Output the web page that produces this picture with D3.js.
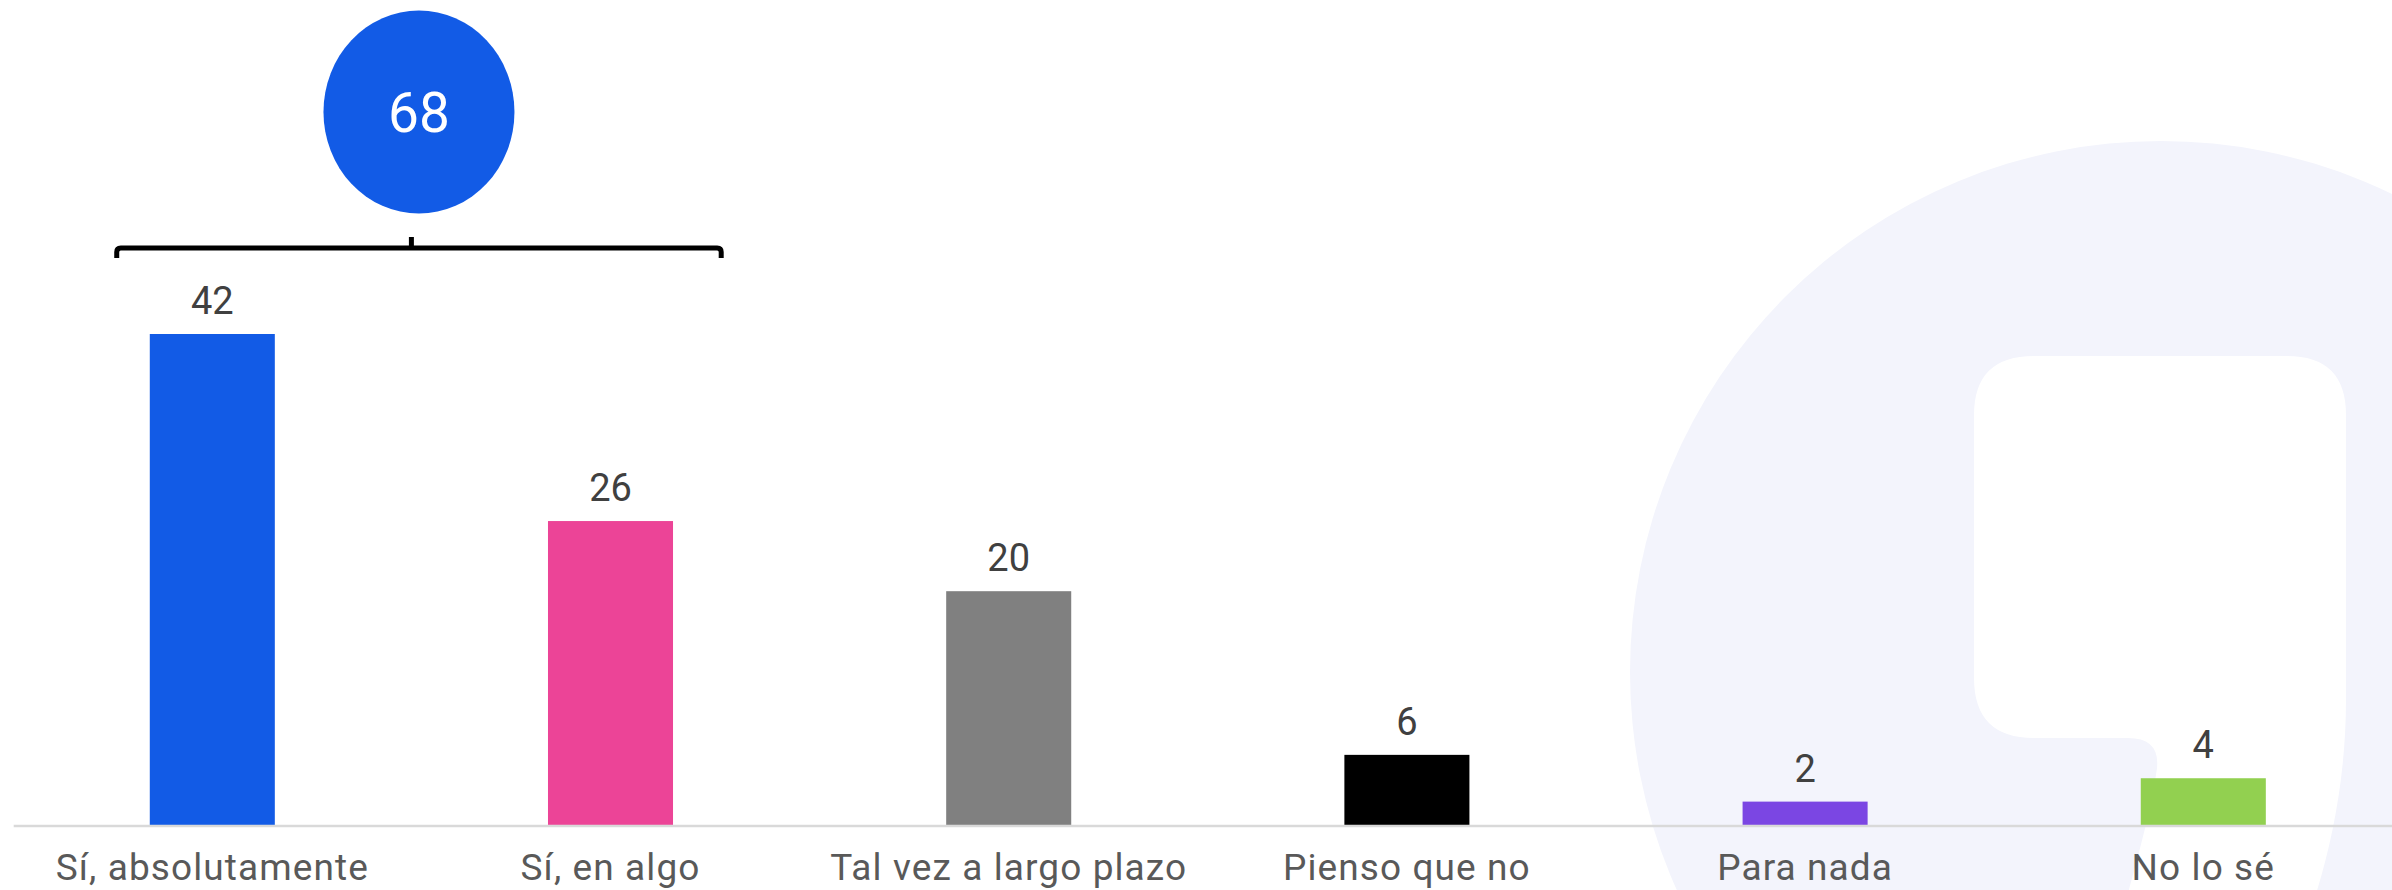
<!DOCTYPE html>
<html>
<head>
<meta charset="utf-8">
<script src="https://cdn.jsdelivr.net/npm/d3@7"></script>
<style>
  html, body { margin: 0; padding: 0; background: #ffffff; overflow: hidden; }
  svg { display: block; }
</style>
</head>
<body>
<div id="chart"></div>
<script>
// ---- data ----
const categories = ["Sí, absolutamente", "Sí, en algo", "Tal vez a largo plazo", "Pienso que no", "Para nada", "No lo sé"];
const values = [42, 26, 20, 6, 2, 4];
const barColors = ["#125be6", "#ec4497", "#808080", "#000000", "#7b46e3", "#92d050"];
const groupMembers = ["Sí, absolutamente", "Sí, en algo"];
const groupTotal = 68;

// ---- layout ----
const W = 2392, H = 890;
const baseY = 825;

const svg = d3.select("#chart").append("svg")
  .attr("width", W).attr("height", H)
  .style("font-family", "Roboto, 'Noto Sans', sans-serif");

// watermark logo (light background shape)
const wm = svg.append("g");
wm.append("circle").attr("cx", 2161).attr("cy", 672).attr("r", 531).attr("fill", "#f3f4fc");
wm.append("path")
  .attr("fill", "#ffffff")
  .attr("d", "M2034,356 H2287 Q2346,356 2346,415 V700 C2346,775 2332,845 2314,900 H2126 C2140,850 2152,805 2157,768 Q2160,738 2128,738 H2034 Q1974,738 1974,678 V415 Q1974,356 2034,356 Z");

// scales
const x = d3.scaleBand()
  .domain(categories)
  .range([13.2, 2402.4])
  .paddingInner(0.686)
  .paddingOuter(0.343);

const y = d3.scaleLinear()
  .domain([0, 42])
  .range([baseY, baseY - 491]);

const color = d3.scaleOrdinal().domain(categories).range(barColors);

const data = categories.map((c, i) => ({ cat: c, val: values[i] }));

// bars
svg.append("g").selectAll("rect")
  .data(data)
  .join("rect")
  .attr("x", d => x(d.cat))
  .attr("y", d => y(d.val))
  .attr("width", x.bandwidth())
  .attr("height", d => y(0) - y(d.val))
  .attr("fill", d => color(d.cat));

// value labels
svg.append("g").selectAll("text")
  .data(data)
  .join("text")
  .attr("x", d => x(d.cat) + x.bandwidth() / 2)
  .attr("y", d => y(d.val) - 20)
  .attr("text-anchor", "middle")
  .attr("font-size", 38)
  .attr("fill", "#404040")
  .text(d => d.val);

// x axis
const axis = svg.append("g")
  .attr("transform", `translate(0,${baseY + 0.5})`)
  .call(d3.axisBottom(x).tickSize(0).tickSizeOuter(0));
axis.select(".domain").attr("stroke", "#d9d9d9").attr("stroke-width", 2.5);
axis.selectAll(".tick text")
  .attr("y", 54.5).attr("dy", null)
  .attr("font-size", 37)
  .attr("letter-spacing", 1.1)
  .attr("font-family", "Roboto, 'Noto Sans', sans-serif")
  .attr("fill", "#595959");

// bracket over grouped categories
const step = x.step();
const bL = x(groupMembers[0]) + x.bandwidth() / 2 - 0.24 * step;
const bR = x(groupMembers[1]) + x.bandwidth() / 2 + 0.278 * step;
const bY = 248;
const bMid = (x(groupMembers[0]) + x(groupMembers[1])) / 2 + x.bandwidth() / 2;
svg.append("path")
  .attr("fill", "none")
  .attr("stroke", "#000000")
  .attr("stroke-width", 5)
  .attr("d", `M${bL},${bY + 10} V${bY + 4} Q${bL},${bY} ${bL + 4},${bY} H${bR - 4} Q${bR},${bY} ${bR},${bY + 4} V${bY + 10}`);
svg.append("line")
  .attr("x1", bMid).attr("x2", bMid)
  .attr("y1", bY).attr("y2", bY - 11)
  .attr("stroke", "#000000").attr("stroke-width", 5);

// total bubble
const cx = (bL + bR) / 2;
svg.append("ellipse")
  .attr("cx", cx).attr("cy", 112)
  .attr("rx", 95.5).attr("ry", 101.5)
  .attr("fill", "#125be6");
svg.append("text")
  .attr("x", cx).attr("y", 132)
  .attr("text-anchor", "middle")
  .attr("font-size", 55)
  .attr("fill", "#ffffff")
  .text(groupTotal);
</script>
</body>
</html>
